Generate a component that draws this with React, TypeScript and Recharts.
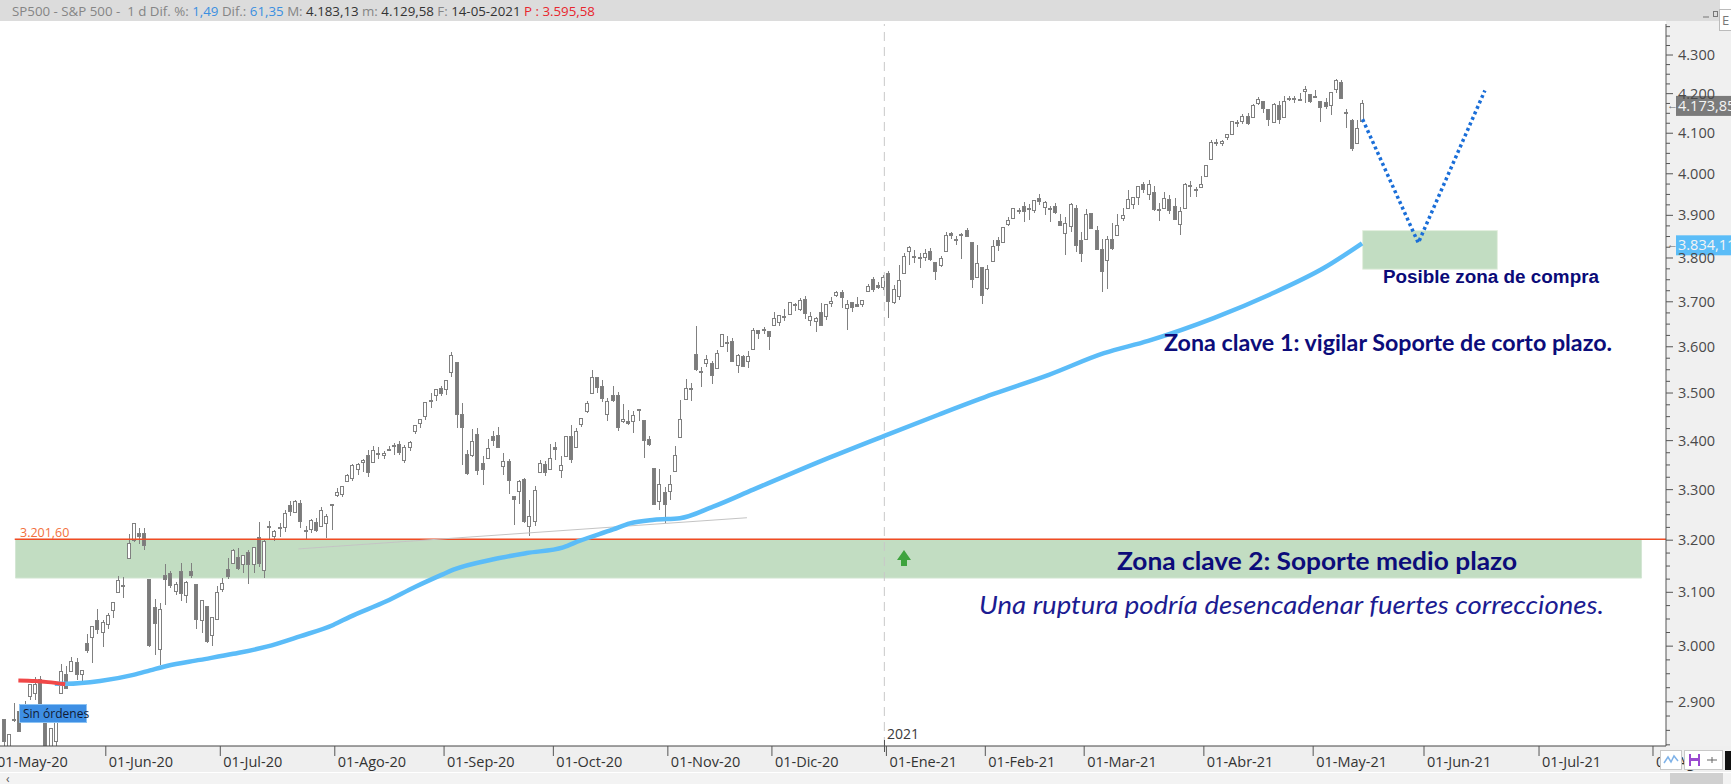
import {
    Bar,
    ComposedChart,
    Line,
    ReferenceArea,
    ReferenceLine,
    XAxis,
    YAxis,
} from 'recharts';

// SP500 daily candles, one per trading day: index 0 = 01-May-20 ... index 261 = 14-May-21
const openP = [
    2869, 2815, 2869, 2883, 2878, 2909, 2915, 2940, 2866, 2795, 2830, 2914, 2949, 2954, 2970, 2948, 3004, 3016, 3047, 3025,
    3039, 3065, 3099, 3112, 3164, 3200, 3213, 3213, 3124, 3071, 2994, 3131, 3136, 3102, 3140, 3094, 3139, 3114, 3047, 3073, 3019, 3050,
    3106, 3144, 3155, 3166, 3153, 3176, 3152, 3205, 3141, 3226, 3208, 3224, 3224, 3269, 3255, 3272, 3219, 3220, 3234, 3227, 3232, 3270,
    3288, 3290, 3317, 3323, 3340, 3356, 3370, 3355, 3373, 3369, 3381, 3387, 3393, 3360, 3386, 3418, 3436, 3450, 3485, 3495, 3510,
    3507, 3544, 3565, 3454, 3372, 3370, 3413, 3353, 3364, 3408, 3411, 3347, 3357, 3286, 3296, 3320, 3226, 3237, 3334, 3351, 3341,
    3386, 3339, 3367, 3409, 3385, 3434, 3460, 3500, 3534, 3515, 3454, 3494, 3494, 3439, 3440, 3439, 3465, 3441, 3403, 3342, 3277, 3294,
    3296, 3336, 3406, 3486, 3508, 3583, 3543, 3563, 3563, 3553, 3600, 3610, 3612, 3559, 3579, 3567, 3595, 3636, 3639, 3634,
    3646, 3654, 3668, 3671, 3695, 3683, 3706, 3659, 3656, 3675, 3666, 3696, 3714, 3722, 3684, 3698, 3693, 3694, 3723, 3750, 3736, 3733,
    3765, 3698, 3712, 3765, 3815, 3803, 3802, 3802, 3815, 3789, 3782, 3816, 3857, 3844, 3852, 3863, 3837, 3756, 3778,
    3731, 3792, 3840, 3837, 3878, 3893, 3910, 3921, 3916, 3912, 3940, 3919, 3916, 3921, 3886, 3857, 3874, 3916, 3840,
    3843, 3904, 3864, 3819, 3794, 3844, 3852, 3892, 3916, 3925, 3943, 3974, 3950, 3954, 3913, 3916, 3938, 3920, 3879, 3917, 3969, 3963, 3967,
    3993, 4034, 4076, 4074, 4090, 4096, 4125, 4130, 4142, 4140, 4174, 4180, 4159, 4128, 4170, 4139, 4185, 4188, 4185, 4206, 4198,
    4192, 4179, 4177, 4169, 4210, 4228, 4150, 4131, 4075, 4130,
];
const highP = [
    2869, 2844, 2898, 2891, 2902, 2932, 2944, 2946, 2874, 2853, 2865, 2968, 2964, 2980, 2979, 2957, 3022, 3036, 3069, 3049,
    3062, 3081, 3131, 3129, 3212, 3233, 3223, 3223, 3124, 3088, 3080, 3153, 3141, 3120, 3156, 3121, 3155, 3115, 3086, 3074, 3054, 3112,
    3128, 3166, 3183, 3184, 3172, 3180, 3187, 3235, 3201, 3238, 3220, 3234, 3259, 3277, 3279, 3280, 3227, 3241, 3244, 3265, 3251, 3272,
    3303, 3307, 3331, 3351, 3353, 3363, 3381, 3388, 3387, 3379, 3388, 3395, 3400, 3391, 3400, 3432, 3444, 3481, 3501, 3509, 3515,
    3528, 3588, 3565, 3479, 3380, 3425, 3426, 3369, 3403, 3419, 3429, 3375, 3362, 3286, 3320, 3323, 3279, 3307, 3361, 3358, 3394,
    3397, 3369, 3410, 3432, 3426, 3447, 3482, 3550, 3534, 3528, 3489, 3516, 3502, 3477, 3465, 3461, 3466, 3441, 3410, 3342, 3341, 3305,
    3330, 3389, 3486, 3529, 3522, 3646, 3557, 3581, 3569, 3594, 3629, 3623, 3619, 3585, 3581, 3590, 3642, 3636, 3644, 3634,
    3678, 3671, 3683, 3699, 3697, 3708, 3712, 3678, 3666, 3698, 3695, 3711, 3725, 3727, 3703, 3698, 3711, 3704, 3741, 3756, 3745, 3760,
    3770, 3738, 3783, 3812, 3827, 3818, 3811, 3821, 3824, 3789, 3805, 3860, 3861, 3852, 3859, 3871, 3837, 3831, 3778,
    3784, 3843, 3848, 3872, 3895, 3916, 3918, 3932, 3926, 3937, 3950, 3934, 3922, 3930, 3903, 3896, 3929, 3925, 3861,
    3915, 3906, 3874, 3844, 3852, 3881, 3904, 3917, 3960, 3945, 3970, 3981, 3984, 3970, 3930, 3955, 3949, 3942, 3920, 3978, 3982, 3968, 3994,
    4021, 4083, 4086, 4083, 4098, 4129, 4132, 4148, 4152, 4173, 4191, 4181, 4159, 4175, 4180, 4194, 4194, 4193, 4202, 4219, 4198,
    4209, 4179, 4188, 4203, 4238, 4236, 4162, 4135, 4132, 4183,
];
const lowP = [
    2822, 2798, 2864, 2848, 2876, 2903, 2903, 2870, 2793, 2767, 2817, 2914, 2922, 2954, 2939, 2934, 2988, 2970, 3023, 2999,
    3032, 3052, 3099, 3090, 3164, 3196, 3193, 3181, 2999, 2984, 2966, 3076, 3108, 3094, 3083, 3079, 3127, 3032, 3024, 3005, 3000, 3048,
    3101, 3125, 3155, 3143, 3137, 3116, 3136, 3149, 3128, 3201, 3199, 3206, 3215, 3248, 3253, 3223, 3200, 3214, 3216, 3227, 3204, 3220,
    3285, 3286, 3317, 3318, 3329, 3335, 3326, 3355, 3363, 3362, 3379, 3370, 3370, 3355, 3379, 3413, 3426, 3444, 3468, 3484, 3493,
    3495, 3535, 3427, 3350, 3329, 3367, 3329, 3310, 3364, 3389, 3384, 3329, 3292, 3229, 3271, 3233, 3209, 3228, 3333, 3328, 3340,
    3361, 3324, 3367, 3355, 3385, 3428, 3458, 3500, 3501, 3481, 3441, 3480, 3420, 3436, 3433, 3415, 3440, 3365, 3389, 3269, 3260, 3234,
    3280, 3336, 3405, 3486, 3484, 3547, 3512, 3557, 3519, 3553, 3600, 3589, 3567, 3544, 3557, 3553, 3595, 3618, 3629, 3594,
    3646, 3645, 3657, 3671, 3679, 3679, 3661, 3645, 3633, 3646, 3660, 3689, 3711, 3686, 3636, 3676, 3689, 3689, 3723, 3723, 3730, 3727,
    3663, 3695, 3705, 3765, 3784, 3789, 3777, 3792, 3793, 3750, 3780, 3816, 3845, 3830, 3797, 3848, 3732, 3756, 3694,
    3726, 3792, 3817, 3837, 3875, 3893, 3903, 3885, 3890, 3906, 3924, 3900, 3885, 3903, 3875, 3806, 3860, 3814, 3790,
    3843, 3869, 3819, 3723, 3730, 3819, 3852, 3886, 3916, 3915, 3924, 3953, 3936, 3911, 3887, 3914, 3902, 3889, 3854, 3917, 3943, 3944, 3967,
    3993, 4034, 4068, 4068, 4083, 4096, 4115, 4124, 4121, 4140, 4171, 4150, 4118, 4126, 4124, 4139, 4182, 4176, 4182, 4177, 4175,
    4188, 4129, 4161, 4147, 4202, 4188, 4112, 4057, 4075, 4130,
];
const closeP = [
    2831, 2843, 2868, 2848, 2881, 2930, 2930, 2870, 2820, 2853, 2864, 2954, 2923, 2972, 2949, 2955, 2992, 3036, 3030, 3044,
    3056, 3081, 3123, 3112, 3194, 3232, 3207, 3190, 3002, 3041, 3067, 3125, 3113, 3115, 3098, 3118, 3131, 3050, 3084, 3009, 3053, 3100,
    3116, 3130, 3180, 3145, 3170, 3152, 3185, 3155, 3198, 3227, 3216, 3225, 3252, 3257, 3276, 3236, 3216, 3239, 3218, 3258, 3246, 3271,
    3295, 3307, 3328, 3349, 3351, 3360, 3334, 3380, 3373, 3373, 3382, 3390, 3375, 3386, 3397, 3431, 3444, 3479, 3485, 3508, 3500,
    3527, 3581, 3455, 3427, 3332, 3399, 3339, 3341, 3384, 3401, 3385, 3357, 3319, 3281, 3316, 3237, 3247, 3298, 3352, 3335, 3363,
    3381, 3348, 3409, 3361, 3419, 3447, 3477, 3534, 3512, 3489, 3483, 3484, 3427, 3443, 3436, 3453, 3465, 3401, 3391, 3271, 3310, 3270,
    3310, 3369, 3443, 3510, 3509, 3551, 3546, 3573, 3537, 3585, 3627, 3610, 3568, 3582, 3558, 3578, 3635, 3630, 3638, 3622,
    3662, 3669, 3667, 3699, 3692, 3702, 3673, 3668, 3663, 3647, 3695, 3701, 3722, 3709, 3695, 3687, 3690, 3703, 3735, 3727, 3732, 3756,
    3701, 3727, 3748, 3804, 3825, 3800, 3801, 3810, 3796, 3768, 3799, 3852, 3853, 3841, 3855, 3850, 3751, 3787, 3714,
    3774, 3826, 3830, 3872, 3887, 3916, 3911, 3910, 3916, 3935, 3933, 3931, 3914, 3907, 3877, 3881, 3925, 3829, 3811,
    3902, 3870, 3820, 3768, 3842, 3821, 3875, 3899, 3939, 3943, 3969, 3963, 3974, 3915, 3913, 3941, 3911, 3889, 3910, 3975, 3971, 3959, 3973,
    4020, 4078, 4074, 4080, 4097, 4129, 4128, 4142, 4125, 4170, 4185, 4163, 4135, 4173, 4135, 4180, 4188, 4187, 4183, 4211, 4181,
    4193, 4165, 4168, 4202, 4233, 4188, 4152, 4063, 4113, 4174,
];

// moving average: [trading-day index, value]
const smaRed: [number, number][] = [[2.8, 2938], [6, 2937], [8.5, 2935], [11.8, 2931]];
const smaBlue: [number, number][] = [
    [9.8, 2932], [12, 2932], [18.5, 2937], [24.9, 2948], [28.1, 2956], [31.3, 2964], [37.7, 2975],
    [44.1, 2986], [50.5, 2999], [56.9, 3018], [63.3, 3039], [66.5, 3054], [73.5, 3083], [79, 3110],
    [84.1, 3133], [86.4, 3143], [94.1, 3163], [100.5, 3175], [107.5, 3186], [110.7, 3199], [117.1, 3221],
    [120.3, 3233], [125, 3240], [129.9, 3243], [136.3, 3266], [144, 3300], [158.4, 3364], [169.2, 3410],
    [179.6, 3454], [190.2, 3498], [200.8, 3539], [211.4, 3586], [219.9, 3613], [232.6, 3664], [243.2, 3716],
    [253.8, 3778], [261, 3834],
];
// drawn annotations
const projection: [number, number][] = [[261.1, 4135], [271.8, 3835], [284.6, 4208]];
const trendLine: [number, number][] = [[56.6, 3183], [142.8, 3244]];
const supportLevel = 3201.6;
const supportStart = 2.1;
const zoneMid = { x1: 2.25, x2: 314.7, y1: 3127, y2: 3201.6 };
const zoneBuy = { x1: 261.1, x2: 287.0, y1: 3774, y2: 3864 };
const yearLine = 169.2;
const lastPrice = 4173.85;
const lastSma = 3834.11;

const xTickPos = [-1.9, 19.6, 41.6, 63.6, 84.6, 105.6, 127.6, 147.6, 169.6, 188.6, 207.6, 230.6, 251.6, 272.9, 295.0, 316.9];
const xTickLabels = [
    '01-May-20', '01-Jun-20', '01-Jul-20', '01-Ago-20', '01-Sep-20', '01-Oct-20', '01-Nov-20', '01-Dic-20',
    '01-Ene-21', '01-Feb-21', '01-Mar-21', '01-Abr-21', '01-May-21', '01-Jun-21', '01-Jul-21', '01-Ago-21',
];
const yLabels = [2900, 3000, 3100, 3200, 3300, 3400, 3500, 3600, 3700, 3800, 3900, 4000, 4100, 4200, 4300];

const X_DOMAIN: [number, number] = [-0.73, 319.4];
const Y_DOMAIN: [number, number] = [2823, 4382];

const yTicks: number[] = [];
for (let v = 2825; v <= 4375; v += 25) yTicks.push(v);

const candles = openP.map((o, i) => ({
    i,
    o,
    h: highP[i],
    l: lowP[i],
    c: closeP[i],
    range: [lowP[i], highP[i]],
}));

const toRows = (pts: [number, number][]) => pts.map(([i, v]) => ({ i, v }));

const FONT = '"Open Sans", "Noto Sans", sans-serif';
const NAVY = '#0c0c7a';
const EDGE = '#808080';

function thousands(v: number): string {
    const s = Math.round(v).toString();
    return s.length > 3 ? `${s.slice(0, -3)}.${s.slice(-3)}` : s;
}

function Candle(props: any) {
    const { x, y, width, height, payload } = props;
    if (!payload || height == null || isNaN(y)) return null;
    const { o, h, l, c } = payload;
    const span = Math.log(h / l) || 1;
    const at = (v: number) => y + (height * Math.log(h / v)) / span;
    const r = Math.round(x + width / 2);
    const top = at(Math.max(o, c));
    const bot = at(Math.min(o, c));
    const up = c >= o;
    return (
        <g shapeRendering="crispEdges">
            <line x1={r + 0.5} x2={r + 0.5} y1={y} y2={y + height} stroke={EDGE} />
            <rect
                x={r - 1.5}
                y={top}
                width={3}
                height={Math.max(1, bot - top)}
                fill={up ? '#ffffff' : '#7b7b7b'}
                stroke={EDGE}
            />
        </g>
    );
}

function XTick(props: any) {
    const { x, y, payload } = props;
    const idx = xTickPos.indexOf(payload.value);
    if (idx < 0) return null;
    return (
        <g>
            <line x1={x} x2={x} y1={y} y2={y + 10} stroke="#555" />
            <text x={x + 3} y={y + 21} fontSize={14.5} fontFamily={FONT} fill="#333">
                {xTickLabels[idx]}
            </text>
        </g>
    );
}

function YTick(props: any) {
    const { x, y, payload } = props;
    const v = payload.value as number;
    const major = yLabels.includes(v);
    return (
        <g>
            <line x1={x} x2={x + (major ? 7 : 4)} y1={y} y2={y} stroke="#555" />
            {major && (
                <text x={x + 12} y={y + 5} fontSize={14.5} fontFamily={FONT} fill="#4a4a4a">
                    {thousands(v)}
                </text>
            )}
        </g>
    );
}

function PriceTag(props: any) {
    const { viewBox, text, fill } = props;
    if (!viewBox) return null;
    const x = viewBox.x + viewBox.width;
    const y = viewBox.y;
    return (
        <g>
            <text x={x + 1} y={y + 5} fontSize={11} fontFamily={FONT} fill="#666">
                ←
            </text>
            <rect x={x + 10} y={y - 8} width={60} height={20} fill={fill} />
            <text x={x + 12} y={y + 7} fontSize={14.5} fontFamily={FONT} fill="#f4f4f4">
                {text}
            </text>
        </g>
    );
}

export default function App() {
    return (
        <div
            style={{
                position: 'absolute',
                left: 0,
                top: 0,
                width: 1731,
                height: 784,
                background: '#ffffff',
                overflow: 'hidden',
                fontFamily: FONT,
            }}
        >
            {/* panels behind the chart */}
            <div style={{ position: 'absolute', left: 1666, top: 21, width: 65, height: 763, background: '#f0f0f0' }} />
            <div style={{ position: 'absolute', left: 0, top: 746, width: 1731, height: 26, background: '#efefef' }} />
            <div style={{ position: 'absolute', left: 0, top: 772, width: 1731, height: 12, background: '#f3f3f3', borderTop: '1px solid #ffffff' }} />

            <div style={{ position: 'absolute', left: 0, top: 0 }}>
                <ComposedChart
                    width={1731}
                    height={784}
                    data={candles}
                    margin={{ top: 24, right: 0, bottom: 0, left: 0 }}
                >
                    <XAxis
                        dataKey="i"
                        type="number"
                        domain={X_DOMAIN}
                        allowDataOverflow
                        ticks={xTickPos}
                        interval={0}
                        tick={<XTick />}
                        tickLine={false}
                        tickSize={0}
                        tickMargin={0}
                        height={38}
                        axisLine={{ stroke: '#444' }}
                    />
                    <YAxis
                        orientation="right"
                        scale="log"
                        domain={Y_DOMAIN}
                        allowDataOverflow
                        ticks={yTicks}
                        interval={0}
                        tick={<YTick />}
                        tickLine={false}
                        tickSize={0}
                        tickMargin={0}
                        width={65}
                        axisLine={{ stroke: '#555' }}
                    />
                    <ReferenceArea
                        x1={zoneMid.x1}
                        x2={zoneMid.x2}
                        y1={zoneMid.y1}
                        y2={zoneMid.y2}
                        fill="#c2ddc2"
                        fillOpacity={1}
                        stroke="#d4e6d4"
                    />
                    <ReferenceArea
                        x1={zoneBuy.x1}
                        x2={zoneBuy.x2}
                        y1={zoneBuy.y1}
                        y2={zoneBuy.y2}
                        fill="#c2ddc2"
                        fillOpacity={1}
                        stroke="#e4efe0"
                    />
                    <ReferenceLine x={yearLine} stroke="#c8c8c8" strokeDasharray="9 6" />
                    <ReferenceLine
                        segment={[
                            { x: supportStart, y: supportLevel },
                            { x: X_DOMAIN[1], y: supportLevel },
                        ]}
                        stroke="#f04b23"
                        strokeWidth={1.5}
                    />
                    <Line
                        data={toRows(trendLine)}
                        dataKey="v"
                        stroke="#c4c4c4"
                        strokeWidth={1}
                        dot={false}
                        isAnimationActive={false}
                    />
                    <Bar dataKey="range" barSize={4} shape={<Candle />} isAnimationActive={false} />
                    <Line
                        data={toRows(smaBlue)}
                        dataKey="v"
                        type="monotone"
                        stroke="#5bbcf8"
                        strokeWidth={4.5}
                        dot={false}
                        isAnimationActive={false}
                    />
                    <Line
                        data={toRows(smaRed)}
                        dataKey="v"
                        type="monotone"
                        stroke="#f04848"
                        strokeWidth={4}
                        dot={false}
                        isAnimationActive={false}
                    />
                    <Line
                        data={toRows(projection)}
                        dataKey="v"
                        stroke="#1a6ed8"
                        strokeWidth={3.5}
                        strokeDasharray="3 3"
                        dot={false}
                        isAnimationActive={false}
                    />
                    <ReferenceLine
                        y={lastPrice}
                        stroke="none"
                        label={<PriceTag text="4.173,85" fill="#7b7b7b" />}
                    />
                    <ReferenceLine
                        y={lastSma}
                        stroke="none"
                        label={<PriceTag text="3.834,11" fill="#5bbdf8" />}
                    />
                </ComposedChart>
            </div>

            {/* annotations drawn on top */}
            <svg
                width={1731}
                height={784}
                style={{ position: 'absolute', left: 0, top: 0, pointerEvents: 'none' }}
            >
                <rect x={0} y={0} width={1720} height={21} fill="#dcdcdc" />
                <text x={12} y={16} fontSize={13.3} fontFamily={FONT} style={{ whiteSpace: 'pre' }}>
                    <tspan fill="#858585">{'SP500 - S&P 500 -  1 d Dif. %: '}</tspan>
                    <tspan fill="#3b8fe0">1,49</tspan>
                    <tspan fill="#858585">{' Dif.: '}</tspan>
                    <tspan fill="#3b8fe0">61,35</tspan>
                    <tspan fill="#858585">{' M: '}</tspan>
                    <tspan fill="#333">4.183,13</tspan>
                    <tspan fill="#858585">{' m: '}</tspan>
                    <tspan fill="#333">4.129,58</tspan>
                    <tspan fill="#858585">{' F: '}</tspan>
                    <tspan fill="#333">14-05-2021</tspan>
                    <tspan fill="#e8262e">{' P : 3.595,58'}</tspan>
                </text>
                <line x1={1703} x2={1709} y1={17} y2={17} stroke="#777" />
                <rect x={1713.5} y={11.5} width={4} height={5} fill="none" stroke="#777" />
                <rect x={1719.5} y={9.5} width={14} height={21} fill="#fff" stroke="#bbb" />
                <text x={1722} y={25} fontSize={13} fontFamily={FONT} fill="#777">
                    E
                </text>

                <text x={20} y={537} fontSize={12.5} fontFamily={FONT} fill="#f2703c">
                    3.201,60
                </text>

                <rect x={19.5} y={704.5} width={67} height={18} fill="#3e8fe4" stroke="#8cc3f4" />
                <text x={23} y={718} fontSize={12} fontFamily={FONT} fill="#111a33">
                    Sin órdenes
                </text>

                <path d="M897 560 L904 550 L911 560 Z M901 560 H907 V566 H901 Z" fill="#3ea33e" />

                <line x1={884.5} x2={884.5} y1={740} y2={752} stroke="#555" />
                <text x={887} y={739} fontSize={14} fontFamily={FONT} fill="#3a3a3a">
                    2021
                </text>

                <text
                    x={1383}
                    y={283}
                    fontSize={17.5}
                    fontWeight={700}
                    fontFamily="'Liberation Sans', Arial, sans-serif"
                    fill="#0a0a78"
                    textLength={216}
                    lengthAdjust="spacingAndGlyphs"
                >
                    Posible zona de compra
                </text>
                <text
                    x={1164}
                    y={351}
                    fontSize={22}
                    fontWeight={700}
                    fontFamily="Lato, sans-serif"
                    fill={NAVY}
                    textLength={448}
                    lengthAdjust="spacingAndGlyphs"
                >
                    Zona clave 1: vigilar Soporte de corto plazo.
                </text>
                <text
                    x={1117}
                    y={570}
                    fontSize={25}
                    fontWeight={700}
                    fontFamily="Lato, sans-serif"
                    fill={NAVY}
                    textLength={400}
                    lengthAdjust="spacingAndGlyphs"
                >
                    Zona clave 2: Soporte medio plazo
                </text>
                <text
                    x={979}
                    y={614}
                    fontSize={25.5}
                    fontStyle="italic"
                    fontFamily="Lato, sans-serif"
                    fill="#1c1c92"
                    textLength={625}
                    lengthAdjust="spacingAndGlyphs"
                >
                    Una ruptura podría desencadenar fuertes correcciones.
                </text>

                {/* bottom right toolbar */}
                <rect x={1660.5} y={750.5} width={21} height={19} fill="#fff" stroke="#c8c8c8" />
                <path d="M1664 763 L1668 757 L1671 762 L1674 756 L1678 761" fill="none" stroke="#7fb2e8" strokeWidth={1.5} />
                <rect x={1684.5} y={750.5} width={38} height={19} fill="#fff" stroke="#c8c8c8" />
                <rect x={1689} y={754} width={11} height={12} fill="#9a4ad0" />
                <rect x={1691} y={754} width={7} height={4} fill="#fff" />
                <rect x={1691} y={761} width={7} height={5} fill="#fff" />
                <path d="M1707 760 H1717 M1712 757 V763" stroke="#666" />
                <rect x={1725} y={751} width={6} height={19} fill="#111" />
                <rect x={1670} y={773} width={53} height={11} fill="#d0d0d0" />
                <text x={6} y={783} fontSize={12} fontFamily={FONT} fill="#555">
                    ‹
                </text>
            </svg>
        </div>
    );
}
